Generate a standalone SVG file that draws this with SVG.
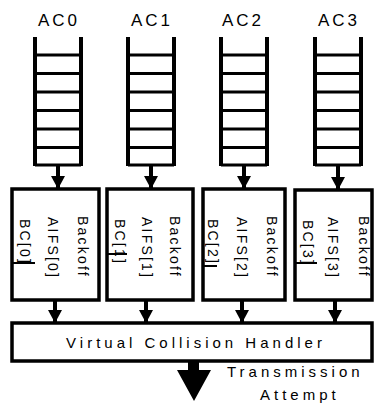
<svg xmlns="http://www.w3.org/2000/svg" width="374" height="408" viewBox="0 0 374 408">
  <style>
    .lbl { font-family: "Liberation Sans", Arial, sans-serif; font-size: 17px; letter-spacing: 3px; fill: #000; }
    .rot { font-family: "Liberation Sans", Arial, sans-serif; font-size: 14px; letter-spacing: 2.2px; fill: #000; }
    .big { font-family: "Liberation Sans", Arial, sans-serif; font-size: 15px; letter-spacing: 4px; fill: #000; }
    .side { stroke: #000; stroke-width: 4; fill: none; }
    .rung { stroke: #000; stroke-width: 3; fill: none; }
    .box { stroke: #000; stroke-width: 3.5; fill: #fff; }
    .sep { stroke: #000; stroke-width: 2; fill: none; }
    .conn { stroke: #000; stroke-width: 4; fill: none; }
  </style>
  <defs>
    <marker id="head" viewBox="0 0 13 14" refX="13" refY="7" markerWidth="13" markerHeight="14" markerUnits="userSpaceOnUse" orient="auto">
      <path d="M0,0 L13,7 L0,14 Z" fill="#000"/>
    </marker>
    <!-- open-top queue with six slots -->
    <g id="queue-shape">
      <path class="side" d="M0,0 V129 M46,0 V129"/>
      <path class="rung" d="M0,18 H46 M0,36.5 H46 M0,55 H46 M0,73.5 H46 M0,92 H46 M0,110.5 H46 M0,128 H46"/>
    </g>
  </defs>

  <rect width="374" height="408" fill="#fff"/>

  <!-- access category queues -->
  <g id="ac0">
    <text class="lbl" x="59" y="26" text-anchor="middle">AC0</text>
    <use href="#queue-shape" x="35" y="37"/>
  </g>
  <g id="ac1">
    <text class="lbl" x="152" y="26" text-anchor="middle">AC1</text>
    <use href="#queue-shape" x="128" y="37"/>
  </g>
  <g id="ac2">
    <text class="lbl" x="243" y="26" text-anchor="middle">AC2</text>
    <use href="#queue-shape" x="221" y="37"/>
  </g>
  <g id="ac3">
    <text class="lbl" x="339" y="26" text-anchor="middle">AC3</text>
    <use href="#queue-shape" x="315" y="37"/>
  </g>

  <!-- per-category backoff entities -->
  <g id="backoff0">
    <rect class="box" x="12" y="189" width="87" height="111"/>
    <path class="sep" d="M12,263 H35"/>
    <text class="rot" transform="translate(78,216) rotate(90)">Backoff</text>
    <text class="rot" transform="translate(48,217) rotate(90)">AIFS[0]</text>
    <text class="rot" transform="translate(20,219) rotate(90)">BC[0]</text>
  </g>
  <g id="backoff1">
    <rect class="box" x="107" y="189" width="86" height="111"/>
    <path class="sep" d="M107,254 H127"/>
    <text class="rot" transform="translate(170,216) rotate(90)">Backoff</text>
    <text class="rot" transform="translate(142,217) rotate(90)">AIFS[1]</text>
    <text class="rot" transform="translate(115,219) rotate(90)">BC[1]</text>
  </g>
  <g id="backoff2">
    <rect class="box" x="203" y="189" width="82" height="111"/>
    <path class="sep" d="M203,266 H217"/>
    <text class="rot" transform="translate(267,216) rotate(90)">Backoff</text>
    <text class="rot" transform="translate(237,217) rotate(90)">AIFS[2]</text>
    <text class="rot" transform="translate(208,219) rotate(90)">BC[2]</text>
  </g>
  <g id="backoff3">
    <rect class="box" x="295" y="190" width="77" height="110"/>
    <path class="sep" d="M295,263 H317"/>
    <text class="rot" transform="translate(359,216) rotate(90)">Backoff</text>
    <text class="rot" transform="translate(328,217) rotate(90)">AIFS[3]</text>
    <text class="rot" transform="translate(303,220) rotate(90)">BC[3]</text>
  </g>

  <!-- collision handler -->
  <g id="handler">
    <rect class="box" x="12" y="323" width="360" height="38"/>
    <text class="big" x="196" y="348" text-anchor="middle">Virtual Collision Handler</text>
  </g>

  <!-- output label -->
  <g id="output">
    <text class="big" x="227" y="377">Transmission</text>
    <text class="big" x="260" y="400">Attempt</text>
  </g>

  <!-- connectors -->
  <g id="connectors">
    <line class="conn" x1="58" y1="166" x2="58" y2="189" marker-end="url(#head)"/>
    <line class="conn" x1="151" y1="166" x2="151" y2="189" marker-end="url(#head)"/>
    <line class="conn" x1="244" y1="166" x2="244" y2="189" marker-end="url(#head)"/>
    <line class="conn" x1="338" y1="166" x2="338" y2="190" marker-end="url(#head)"/>
    <line class="conn" x1="55" y1="300" x2="55" y2="323" marker-end="url(#head)"/>
    <line class="conn" x1="146" y1="300" x2="146" y2="323" marker-end="url(#head)"/>
    <line class="conn" x1="242" y1="300" x2="242" y2="323" marker-end="url(#head)"/>
    <line class="conn" x1="335" y1="300" x2="335" y2="323" marker-end="url(#head)"/>
    <path d="M188,361 H199 V370 H211 L194,401 L177,370 H188 Z" fill="#000"/>
  </g>
</svg>
